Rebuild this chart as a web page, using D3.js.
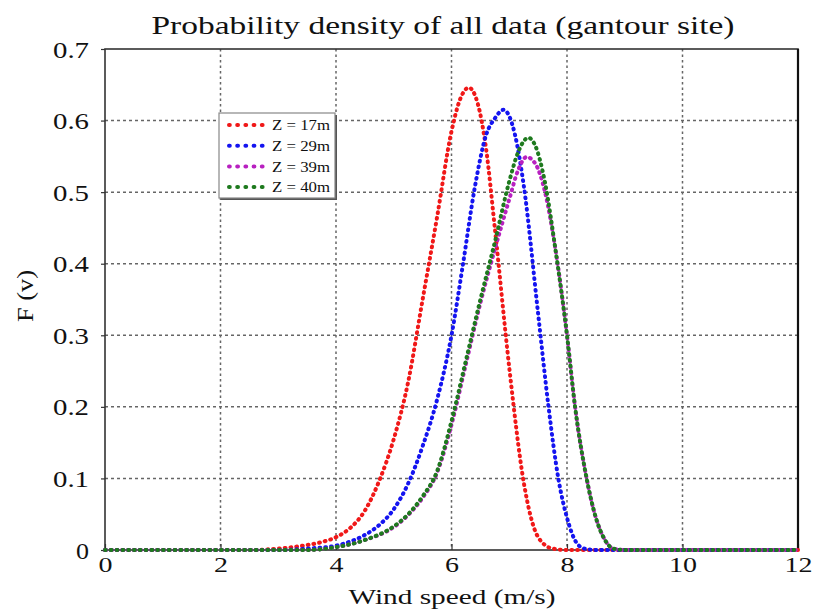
<!DOCTYPE html>
<html>
<head>
<meta charset="utf-8">
<script src="https://cdn.jsdelivr.net/npm/d3@7"></script>
<style>
  body { margin: 0; background: #fff; }
  svg text { font-family: "Liberation Serif", "Times New Roman", serif; fill: #111; }
</style>
</head>
<body>
<div id="chart"></div>
<script>
// wind speed (m/s) and density F(v)
const z17 = [[0,0],[2.5,0],[3,0.002],[3.25,0.004],[3.5,0.007],[3.75,0.011],[4,0.018],[4.25,0.031],[4.5,0.055],[4.75,0.097],[5,0.155],[5.25,0.235],[5.5,0.35],[5.75,0.465],[6,0.585],[6.15,0.63],[6.3,0.646],[6.45,0.625],[6.6,0.56],[6.75,0.45],[7,0.255],[7.25,0.095],[7.5,0.018],[7.75,0.002],[8,0],[12,0]];
const z29 = [[0,0],[3,0],[3.5,0.002],[4,0.006],[4.25,0.012],[4.5,0.021],[4.75,0.035],[5,0.057],[5.25,0.093],[5.5,0.145],[5.75,0.21],[6,0.3],[6.2,0.4],[6.4,0.505],[6.6,0.58],[6.75,0.603],[6.9,0.615],[7,0.606],[7.1,0.58],[7.25,0.51],[7.5,0.33],[7.68,0.2],[7.85,0.1],[8,0.045],[8.15,0.012],[8.3,0.002],[8.5,0],[12,0]];
const z39 = [[0,0],[3.5,0],[4,0.004],[4.5,0.014],[5,0.032],[5.25,0.049],[5.5,0.073],[5.75,0.108],[6,0.175],[6.25,0.26],[6.5,0.345],[6.75,0.42],[7,0.49],[7.15,0.53],[7.3,0.549],[7.45,0.54],[7.62,0.5],[7.8,0.42],[8,0.3],[8.14,0.2],[8.34,0.1],[8.5,0.045],[8.65,0.015],[8.8,0.002],[9,0],[12,0]];
const z40 = [[0,0],[3.5,0],[4,0.004],[4.5,0.014],[5,0.033],[5.25,0.05],[5.5,0.075],[5.75,0.11],[6,0.18],[6.25,0.265],[6.5,0.35],[6.75,0.43],[7,0.515],[7.15,0.555],[7.33,0.576],[7.45,0.565],[7.62,0.513],[7.8,0.42],[8,0.3],[8.14,0.2],[8.34,0.1],[8.5,0.045],[8.65,0.015],[8.8,0.002],[9,0],[12,0]];

const seriesNames = ["Z = 17m", "Z = 29m", "Z = 39m", "Z = 40m"];
const seriesColors = ["#f01818", "#1414f0", "#b820c0", "#1e7a1e"];
const seriesData = [z17, z29, z39, z40];

const xTicks = [0, 2, 4, 6, 8, 10, 12];
const yTicks = [0, 0.1, 0.2, 0.3, 0.4, 0.5, 0.6, 0.7];

const width = 816, height = 609;
const plotLeft = 105, plotRight = 798, plotTop = 49, plotBottom = 550;

const svg = d3.select("#chart").append("svg")
    .attr("width", width)
    .attr("height", height);

const x = d3.scaleLinear().domain([0, 12]).range([plotLeft, plotRight]);
const y = d3.scaleLinear().domain([0, 0.7]).range([plotBottom, plotTop]);

// grid (dotted, matlab style)
svg.append("g")
    .selectAll("line")
    .data(xTicks.slice(1, -1))
    .enter().append("line")
    .attr("x1", d => x(d)).attr("x2", d => x(d))
    .attr("y1", plotTop).attr("y2", plotBottom)
    .attr("stroke", "#666").attr("stroke-width", 1.5)
    .attr("stroke-dasharray", "2.5,3");

svg.append("g")
    .selectAll("line")
    .data(yTicks.slice(1, -1))
    .enter().append("line")
    .attr("x1", plotLeft).attr("x2", plotRight)
    .attr("y1", d => y(d)).attr("y2", d => y(d))
    .attr("stroke", "#666").attr("stroke-width", 1.5)
    .attr("stroke-dasharray", "3,3");

// axes
const xAxis = d3.axisBottom(x).tickValues(xTicks).tickSizeInner(-6).tickSizeOuter(0).tickPadding(6);
const yAxis = d3.axisLeft(y).tickValues(yTicks).tickSizeInner(4).tickSizeOuter(0).tickPadding(12)
    .tickFormat(d => d === 0 ? "0" : d3.format(".1f")(d));

const gx = svg.append("g")
    .attr("transform", "translate(0," + plotBottom + ")")
    .call(xAxis);
gx.select(".domain").remove();
gx.selectAll("line").attr("stroke", "#333").attr("stroke-width", 1.2);
gx.selectAll("text")
    .style("font-size", "22px")
    .attr("dy", "0.72em")
    .attr("lengthAdjust", "spacingAndGlyphs")
    .attr("textLength", d => String(d).length * 14);

const gy = svg.append("g")
    .attr("transform", "translate(" + plotLeft + ",0)")
    .call(yAxis);
gy.select(".domain").remove();
gy.selectAll("line").attr("stroke", "#333").attr("stroke-width", 1.2);
gy.selectAll("text")
    .style("font-size", "23px")
    .attr("dy", "0.35em")
    .attr("lengthAdjust", "spacingAndGlyphs")
    .attr("textLength", d => d === 0 ? 13 : 36);

// frame
svg.append("rect")
    .attr("x", plotLeft).attr("y", plotTop)
    .attr("width", plotRight - plotLeft).attr("height", plotBottom - plotTop)
    .attr("fill", "none").attr("stroke", "#333").attr("stroke-width", 1.6);
svg.append("line")
    .attr("x1", plotRight).attr("x2", plotRight)
    .attr("y1", plotTop).attr("y2", plotBottom)
    .attr("stroke", "#111").attr("stroke-width", 2.2);

// curves, dotted
const line = d3.line()
    .x(d => x(d[0]))
    .y(d => y(d[1]))
    .curve(d3.curveMonotoneX);

svg.append("g")
    .selectAll("path")
    .data(seriesData)
    .enter().append("path")
    .attr("d", line)
    .attr("fill", "none")
    .attr("stroke", (d, i) => seriesColors[i])
    .attr("stroke-width", 4)
    .attr("stroke-linecap", "round")
    .attr("stroke-dasharray", "0.8,5");

// legend
const legend = svg.append("g").attr("transform", "translate(219,113)");
legend.append("rect")
    .attr("x", 2).attr("y", 2).attr("width", 116).attr("height", 85)
    .attr("fill", "#555");
legend.append("rect")
    .attr("width", 116).attr("height", 85)
    .attr("fill", "#fff").attr("stroke", "#888").attr("stroke-width", 1.2);

const entry = legend.selectAll("g.entry")
    .data(seriesNames)
    .enter().append("g")
    .attr("class", "entry")
    .attr("transform", (d, i) => "translate(0," + (12 + i * 20.7) + ")");

entry.append("line")
    .attr("x1", 10).attr("x2", 51)
    .attr("stroke", (d, i) => seriesColors[i])
    .attr("stroke-width", 4)
    .attr("stroke-linecap", "round")
    .attr("stroke-dasharray", "0.8,7.4");

entry.append("text")
    .attr("x", 53)
    .attr("dy", "0.35em")
    .style("font-size", "15px")
    .attr("lengthAdjust", "spacingAndGlyphs")
    .attr("textLength", 58)
    .text(d => d);

// titles
svg.append("text")
    .attr("x", 443).attr("y", 34)
    .attr("text-anchor", "middle")
    .style("font-size", "25px")
    .attr("lengthAdjust", "spacingAndGlyphs")
    .attr("textLength", 583)
    .text("Probability density of all data (gantour site)");

svg.append("text")
    .attr("x", 452).attr("y", 604)
    .attr("text-anchor", "middle")
    .style("font-size", "22px")
    .attr("lengthAdjust", "spacingAndGlyphs")
    .attr("textLength", 207)
    .text("Wind speed (m/s)");

svg.append("text")
    .attr("transform", "translate(33,296) rotate(-90)")
    .attr("text-anchor", "middle")
    .style("font-size", "23px")
    .attr("lengthAdjust", "spacingAndGlyphs")
    .attr("textLength", 52)
    .text("F (v)");
</script>
</body>
</html>
